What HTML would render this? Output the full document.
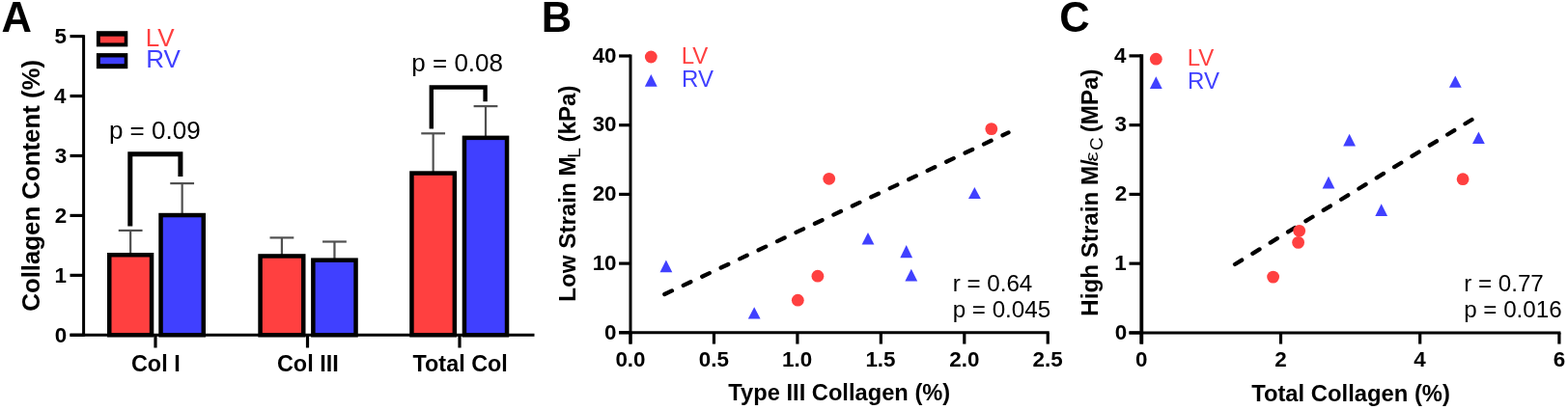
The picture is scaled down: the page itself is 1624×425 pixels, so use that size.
<!DOCTYPE html>
<html><head><meta charset="utf-8"><title>Collagen figure</title>
<style>
html,body{margin:0;padding:0;background:#fff;}
body{width:1624px;height:425px;overflow:hidden;}
svg{display:block;filter:blur(0.4px);}
text{font-family:"Liberation Sans",Arial,Helvetica,sans-serif;}
</style></head>
<body>
<svg width="1624" height="425" viewBox="0 0 1624 425">
<rect x="0" y="0" width="1624" height="425" fill="#fff"/>
<text x="1.51" y="33.30" font-size="43.5" font-weight="bold" text-anchor="start" fill="#000" >A</text>
<line x1="86.60" y1="36.30" x2="86.60" y2="348.80" stroke="#000" stroke-width="3.0" />
<line x1="72.50" y1="347.30" x2="86.60" y2="347.30" stroke="#000" stroke-width="3.2" />
<text x="56.86" y="354.70" font-size="22.4" font-weight="bold" text-anchor="start" fill="#000" >0</text>
<line x1="72.50" y1="285.36" x2="86.60" y2="285.36" stroke="#000" stroke-width="3.2" />
<text x="56.53" y="292.76" font-size="22.4" font-weight="bold" text-anchor="start" fill="#000" >1</text>
<line x1="72.50" y1="223.42" x2="86.60" y2="223.42" stroke="#000" stroke-width="3.2" />
<text x="56.86" y="230.82" font-size="22.4" font-weight="bold" text-anchor="start" fill="#000" >2</text>
<line x1="72.50" y1="161.48" x2="86.60" y2="161.48" stroke="#000" stroke-width="3.2" />
<text x="56.75" y="168.88" font-size="22.4" font-weight="bold" text-anchor="start" fill="#000" >3</text>
<line x1="72.50" y1="99.54" x2="86.60" y2="99.54" stroke="#000" stroke-width="3.2" />
<text x="56.08" y="106.94" font-size="22.4" font-weight="bold" text-anchor="start" fill="#000" >4</text>
<line x1="72.50" y1="37.60" x2="86.60" y2="37.60" stroke="#000" stroke-width="3.2" />
<text x="56.53" y="45.00" font-size="22.4" font-weight="bold" text-anchor="start" fill="#000" >5</text>
<line x1="72.50" y1="347.30" x2="553.50" y2="347.30" stroke="#000" stroke-width="3.0" />
<line x1="161.00" y1="347.30" x2="161.00" y2="360.50" stroke="#000" stroke-width="3.2" />
<text x="135.96" y="384.60" font-size="23.4" font-weight="bold" text-anchor="start" fill="#000" >Col I</text>
<line x1="318.50" y1="347.30" x2="318.50" y2="360.50" stroke="#000" stroke-width="3.2" />
<text x="286.97" y="384.60" font-size="23.4" font-weight="bold" text-anchor="start" fill="#000" >Col III</text>
<line x1="476.00" y1="347.30" x2="476.00" y2="360.50" stroke="#000" stroke-width="3.2" />
<text x="427.50" y="384.60" font-size="23.4" font-weight="bold" text-anchor="start" fill="#000" >Total Col</text>
<text transform="translate(40.6,322.73) rotate(-90)" font-size="25.8" font-weight="bold">Collagen Content (%)</text>
<line x1="135.15" y1="263.00" x2="135.15" y2="238.90" stroke="#505050" stroke-width="2.2" />
<line x1="122.75" y1="238.90" x2="147.55" y2="238.90" stroke="#505050" stroke-width="2.2" />
<line x1="188.65" y1="221.80" x2="188.65" y2="190.10" stroke="#505050" stroke-width="2.2" />
<line x1="176.25" y1="190.10" x2="201.05" y2="190.10" stroke="#505050" stroke-width="2.2" />
<line x1="291.90" y1="264.20" x2="291.90" y2="246.40" stroke="#505050" stroke-width="2.2" />
<line x1="279.50" y1="246.40" x2="304.30" y2="246.40" stroke="#505050" stroke-width="2.2" />
<line x1="346.45" y1="268.40" x2="346.45" y2="250.50" stroke="#505050" stroke-width="2.2" />
<line x1="334.05" y1="250.50" x2="358.85" y2="250.50" stroke="#505050" stroke-width="2.2" />
<line x1="448.65" y1="178.30" x2="448.65" y2="138.30" stroke="#505050" stroke-width="2.2" />
<line x1="436.25" y1="138.30" x2="461.05" y2="138.30" stroke="#505050" stroke-width="2.2" />
<line x1="503.00" y1="141.60" x2="503.00" y2="110.10" stroke="#505050" stroke-width="2.2" />
<line x1="490.60" y1="110.10" x2="515.40" y2="110.10" stroke="#505050" stroke-width="2.2" />
<rect x="113.25" y="264.25" width="43.80" height="83.05" fill="#FF4040" stroke="#000" stroke-width="4.5"/>
<rect x="166.55" y="223.05" width="44.20" height="124.25" fill="#4040FF" stroke="#000" stroke-width="4.5"/>
<rect x="269.55" y="265.45" width="44.70" height="81.85" fill="#FF4040" stroke="#000" stroke-width="4.5"/>
<rect x="324.35" y="269.65" width="44.20" height="77.65" fill="#4040FF" stroke="#000" stroke-width="4.5"/>
<rect x="426.45" y="179.55" width="44.40" height="167.75" fill="#FF4040" stroke="#000" stroke-width="4.5"/>
<rect x="480.95" y="142.85" width="44.10" height="204.45" fill="#4040FF" stroke="#000" stroke-width="4.5"/>
<path d="M134.8,234.6 L134.8,159.7 L186.9,159.7 L186.9,182.9" fill="none" stroke="#000" stroke-width="5" stroke-linejoin="miter" stroke-linecap="butt"/>
<path d="M446.8,133.5 L446.8,90.5 L502.6,90.5 L502.6,105.3" fill="none" stroke="#000" stroke-width="4.4" stroke-linejoin="miter" stroke-linecap="butt"/>
<text x="112.91" y="143.70" font-size="26" text-anchor="start" fill="#000" >p = 0.09</text>
<text x="426.31" y="73.70" font-size="26" text-anchor="start" fill="#000" >p = 0.08</text>
<rect x="99.90" y="32.20" width="32.40" height="16.20" fill="#000"/>
<rect x="103.80" y="37.70" width="24.90" height="6.70" fill="#FF4040"/>
<rect x="99.90" y="55.10" width="32.40" height="16.10" fill="#000"/>
<rect x="103.80" y="59.50" width="24.90" height="6.70" fill="#4040FF"/>
<text x="150.82" y="47.90" font-size="26" text-anchor="start" fill="#FF4040" >LV</text>
<text x="151.22" y="70.30" font-size="26" text-anchor="start" fill="#4040FF" >RV</text>
<text x="560.87" y="33.30" font-size="43.5" font-weight="bold" text-anchor="start" fill="#000" >B</text>
<line x1="653.00" y1="56.50" x2="653.00" y2="356.60" stroke="#000" stroke-width="3.0" />
<line x1="641.10" y1="344.80" x2="1086.70" y2="344.80" stroke="#000" stroke-width="3.0" />
<line x1="641.10" y1="344.80" x2="653.00" y2="344.80" stroke="#000" stroke-width="3.2" />
<text x="626.06" y="351.50" font-size="22.4" font-weight="bold" text-anchor="start" fill="#000" >0</text>
<line x1="641.10" y1="273.10" x2="653.00" y2="273.10" stroke="#000" stroke-width="3.2" />
<text x="613.63" y="279.80" font-size="22.4" font-weight="bold" text-anchor="start" fill="#000" >10</text>
<line x1="641.10" y1="201.40" x2="653.00" y2="201.40" stroke="#000" stroke-width="3.2" />
<text x="613.63" y="208.10" font-size="22.4" font-weight="bold" text-anchor="start" fill="#000" >20</text>
<line x1="641.10" y1="129.70" x2="653.00" y2="129.70" stroke="#000" stroke-width="3.2" />
<text x="613.63" y="136.40" font-size="22.4" font-weight="bold" text-anchor="start" fill="#000" >30</text>
<line x1="641.10" y1="58.00" x2="653.00" y2="58.00" stroke="#000" stroke-width="3.2" />
<text x="613.63" y="64.70" font-size="22.4" font-weight="bold" text-anchor="start" fill="#000" >40</text>
<line x1="653.00" y1="344.80" x2="653.00" y2="356.60" stroke="#000" stroke-width="3.2" />
<text x="637.43" y="380.10" font-size="22.4" font-weight="bold" text-anchor="start" fill="#000" >0.0</text>
<line x1="739.45" y1="344.80" x2="739.45" y2="356.60" stroke="#000" stroke-width="3.2" />
<text x="723.71" y="380.10" font-size="22.4" font-weight="bold" text-anchor="start" fill="#000" >0.5</text>
<line x1="825.90" y1="344.80" x2="825.90" y2="356.60" stroke="#000" stroke-width="3.2" />
<text x="810.11" y="380.10" font-size="22.4" font-weight="bold" text-anchor="start" fill="#000" >1.0</text>
<line x1="912.35" y1="344.80" x2="912.35" y2="356.60" stroke="#000" stroke-width="3.2" />
<text x="896.39" y="380.10" font-size="22.4" font-weight="bold" text-anchor="start" fill="#000" >1.5</text>
<line x1="998.80" y1="344.80" x2="998.80" y2="356.60" stroke="#000" stroke-width="3.2" />
<text x="983.29" y="380.10" font-size="22.4" font-weight="bold" text-anchor="start" fill="#000" >2.0</text>
<line x1="1085.25" y1="344.80" x2="1085.25" y2="356.60" stroke="#000" stroke-width="3.2" />
<text x="1069.57" y="380.10" font-size="22.4" font-weight="bold" text-anchor="start" fill="#000" >2.5</text>
<text x="754.37" y="415.20" font-size="23.7" font-weight="bold" text-anchor="start" fill="#000" >Type III Collagen (%)</text>
<text transform="translate(596.00,311.30) rotate(-90)" x="-1.57" y="0.00" font-size="24.2" font-weight="bold">Low Strain M</text>
<text transform="translate(596.00,311.30) rotate(-90)" x="147.58" y="4.80" font-size="19">L</text>
<text transform="translate(596.00,311.30) rotate(-90)" x="163.79" y="0.00" font-size="24.2" font-weight="bold">(kPa)</text>
<line x1="688.30" y1="305.00" x2="1044.50" y2="137.40" stroke="#000" stroke-width="4.3" stroke-linecap="round" stroke-dasharray="8.4 13.1"/>
<circle cx="826.30" cy="311.20" r="6.4" fill="#FF4040"/>
<circle cx="846.90" cy="286.20" r="6.4" fill="#FF4040"/>
<circle cx="858.70" cy="185.30" r="6.4" fill="#FF4040"/>
<circle cx="1026.80" cy="133.60" r="6.4" fill="#FF4040"/>
<polygon points="689.90,269.50 696.30,282.20 683.50,282.20" fill="#4040FF"/>
<polygon points="781.20,318.20 787.60,330.50 774.80,330.50" fill="#4040FF"/>
<polygon points="899.00,240.90 905.40,253.40 892.60,253.40" fill="#4040FF"/>
<polygon points="938.70,254.10 945.10,267.20 932.30,267.20" fill="#4040FF"/>
<polygon points="943.80,278.80 950.20,291.50 937.40,291.50" fill="#4040FF"/>
<polygon points="1009.40,193.90 1015.80,206.10 1003.00,206.10" fill="#4040FF"/>
<circle cx="674.30" cy="59.00" r="6.4" fill="#FF4040"/>
<polygon points="674.30,77.00 680.70,89.70 667.90,89.70" fill="#4040FF"/>
<text x="705.78" y="66.10" font-size="24" text-anchor="start" fill="#FF4040" >LV</text>
<text x="706.08" y="90.10" font-size="24" text-anchor="start" fill="#4040FF" >RV</text>
<text x="986.63" y="301.50" font-size="24.2" text-anchor="start" fill="#000" >r = 0.64</text>
<text x="986.63" y="329.40" font-size="24.2" text-anchor="start" fill="#000" >p = 0.045</text>
<text x="1097.26" y="33.30" font-size="43.5" font-weight="bold" text-anchor="start" fill="#000" >C</text>
<line x1="1182.30" y1="56.20" x2="1182.30" y2="356.60" stroke="#000" stroke-width="3.8" />
<line x1="1169.50" y1="344.90" x2="1616.40" y2="344.90" stroke="#000" stroke-width="3.0" />
<line x1="1169.50" y1="344.90" x2="1182.30" y2="344.90" stroke="#000" stroke-width="3.2" />
<text x="1154.66" y="351.60" font-size="22.4" font-weight="bold" text-anchor="start" fill="#000" >0</text>
<line x1="1169.50" y1="273.15" x2="1182.30" y2="273.15" stroke="#000" stroke-width="3.2" />
<text x="1154.33" y="279.85" font-size="22.4" font-weight="bold" text-anchor="start" fill="#000" >1</text>
<line x1="1169.50" y1="201.40" x2="1182.30" y2="201.40" stroke="#000" stroke-width="3.2" />
<text x="1154.66" y="208.10" font-size="22.4" font-weight="bold" text-anchor="start" fill="#000" >2</text>
<line x1="1169.50" y1="129.65" x2="1182.30" y2="129.65" stroke="#000" stroke-width="3.2" />
<text x="1154.55" y="136.35" font-size="22.4" font-weight="bold" text-anchor="start" fill="#000" >3</text>
<line x1="1169.50" y1="57.90" x2="1182.30" y2="57.90" stroke="#000" stroke-width="3.2" />
<text x="1153.88" y="64.60" font-size="22.4" font-weight="bold" text-anchor="start" fill="#000" >4</text>
<line x1="1182.30" y1="344.90" x2="1182.30" y2="356.60" stroke="#000" stroke-width="3.2" />
<text x="1176.08" y="380.10" font-size="22.4" font-weight="bold" text-anchor="start" fill="#000" >0</text>
<line x1="1326.50" y1="344.90" x2="1326.50" y2="356.60" stroke="#000" stroke-width="3.2" />
<text x="1320.34" y="380.10" font-size="22.4" font-weight="bold" text-anchor="start" fill="#000" >2</text>
<line x1="1470.70" y1="344.90" x2="1470.70" y2="356.60" stroke="#000" stroke-width="3.2" />
<text x="1464.37" y="380.10" font-size="22.4" font-weight="bold" text-anchor="start" fill="#000" >4</text>
<line x1="1614.90" y1="344.90" x2="1614.90" y2="356.60" stroke="#000" stroke-width="3.2" />
<text x="1608.68" y="380.10" font-size="22.4" font-weight="bold" text-anchor="start" fill="#000" >6</text>
<text x="1296.14" y="415.50" font-size="23.8" font-weight="bold" text-anchor="start" fill="#000" >Total Collagen (%)</text>
<text transform="translate(1137.00,326.20) rotate(-90)" x="-1.57" y="0.00" font-size="24.2" font-weight="bold">High Strain M/</text>
<text transform="translate(1137.00,326.20) rotate(-90) translate(158.48,0.00) scale(1.3,1)" x="0" y="0" font-size="18">ε</text>
<text transform="translate(1137.00,326.20) rotate(-90)" x="170.15" y="5.40" font-size="19">C</text>
<text transform="translate(1137.00,326.20) rotate(-90)" x="188.99" y="0.00" font-size="24.2" font-weight="bold">(MPa)</text>
<line x1="1279.00" y1="274.00" x2="1524.50" y2="124.00" stroke="#000" stroke-width="4.3" stroke-linecap="round" stroke-dasharray="8.4 13.1"/>
<circle cx="1318.60" cy="287.10" r="6.4" fill="#FF4040"/>
<circle cx="1344.60" cy="251.40" r="6.4" fill="#FF4040"/>
<circle cx="1345.70" cy="239.30" r="6.4" fill="#FF4040"/>
<circle cx="1515.10" cy="185.70" r="6.4" fill="#FF4040"/>
<polygon points="1376.00,182.70 1382.40,195.60 1369.60,195.60" fill="#4040FF"/>
<polygon points="1397.60,138.70 1404.00,151.60 1391.20,151.60" fill="#4040FF"/>
<polygon points="1430.70,211.20 1437.10,224.10 1424.30,224.10" fill="#4040FF"/>
<polygon points="1507.30,78.60 1513.70,90.80 1500.90,90.80" fill="#4040FF"/>
<polygon points="1531.40,136.60 1537.80,148.90 1525.00,148.90" fill="#4040FF"/>
<circle cx="1197.30" cy="61.20" r="6.4" fill="#FF4040"/>
<polygon points="1197.30,79.20 1203.70,91.90 1190.90,91.90" fill="#4040FF"/>
<text x="1229.68" y="67.50" font-size="24" text-anchor="start" fill="#FF4040" >LV</text>
<text x="1230.08" y="91.90" font-size="24" text-anchor="start" fill="#4040FF" >RV</text>
<text x="1516.13" y="301.50" font-size="24.2" text-anchor="start" fill="#000" >r = 0.77</text>
<text x="1516.13" y="329.40" font-size="24.2" text-anchor="start" fill="#000" >p = 0.016</text>
</svg>
</body></html>
